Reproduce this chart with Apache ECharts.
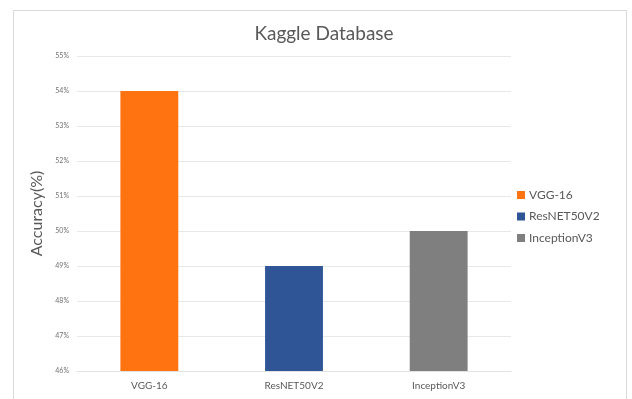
<!DOCTYPE html>
<html>
<head>
<meta charset="utf-8">
<script src="https://cdn.jsdelivr.net/npm/echarts@6/dist/echarts.min.js"></script>
<style>
  html, body { margin: 0; padding: 0; background: #fff; }
  #chart { width: 632px; height: 399px; }
</style>
</head>
<body>
<div id="chart"></div>
<script>
// Accuracy of each model on the Kaggle database
const categories = ['VGG-16', 'ResNET50V2', 'InceptionV3'];
const accuracy = [54, 49, 50];
const barColors = ['#FF7410', '#2F5597', '#7F7F7F'];
const yTicks = [46, 47, 48, 49, 50, 51, 52, 53, 54, 55];

const FONT = 'Lato, "Open Sans", sans-serif';
const TEXT = '#595959';

// One series per model so every model gets its own legend entry;
// the shared stack keeps each bar centred on its own category.
const series = categories.map((name, i) => ({
  name: name,
  type: 'bar',
  stack: 'models',
  barWidth: '40%',
  itemStyle: { color: barColors[i] },
  data: categories.map((c, j) => (j === i ? accuracy[i] : null))
}));

const chart = echarts.init(document.getElementById('chart'), null, { renderer: 'canvas' });
chart.setOption({
  animation: false,
  backgroundColor: '#ffffff',
  title: {
    text: 'Kaggle Database',
    left: 319,
    textAlign: 'center',
    top: 19,
    textStyle: { fontFamily: FONT, fontSize: 19, fontWeight: 'normal', color: TEXT }
  },
  graphic: [{
    type: 'rect',
    shape: { x: 13.5, y: 10.5, width: 613, height: 420 },
    style: { fill: 'none', stroke: '#d9d9d9', lineWidth: 1 },
    silent: true
  }],
  legend: {
    orient: 'vertical',
    left: 512,
    top: 184,
    itemWidth: 8,
    itemHeight: 8,
    itemGap: 9.5,
    icon: 'rect',
    data: categories,
    textStyle: { fontFamily: FONT, fontSize: 12, color: TEXT, padding: [0, 0, 0, -1] }
  },
  grid: { left: 77, right: 121, top: 56, bottom: 28 },
  xAxis: {
    type: 'category',
    data: categories,
    axisTick: { show: false },
    axisLine: { lineStyle: { color: '#e3e3e3' } },
    axisLabel: { fontFamily: FONT, fontSize: 10, color: TEXT, margin: 10 }
  },
  yAxis: {
    type: 'value',
    min: yTicks[0],
    max: yTicks[yTicks.length - 1],
    interval: 1,
    name: 'Accuracy(%)',
    nameLocation: 'middle',
    nameGap: 30,
    nameTextStyle: { fontFamily: FONT, fontSize: 16, color: TEXT },
    axisLine: { show: false },
    axisTick: { show: false },
    splitLine: { lineStyle: { color: '#e8e8e8' } },
    axisLabel: {
      fontFamily: FONT, fontSize: 7, color: '#707070', margin: 8,
      formatter: v => v + '%'
    }
  },
  series: series
});
</script>
</body>
</html>
